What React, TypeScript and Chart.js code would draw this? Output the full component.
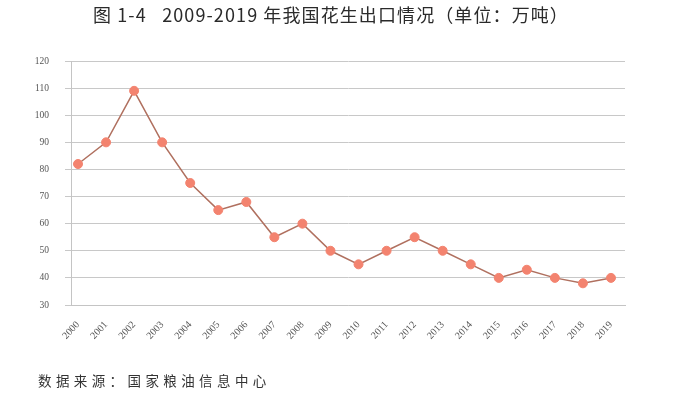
import React, { useEffect, useRef } from "react";
import { Chart, registerables } from "chart.js";

Chart.register(...registerables);

const years = ["2000","2001","2002","2003","2004","2005","2006","2007","2008","2009","2010","2011","2012","2013","2014","2015","2016","2017","2018","2019"];
const exportsWanTon = [82, 90, 109, 90, 75, 65, 68, 55, 60, 50, 45, 50, 55, 50, 45, 40, 43, 40, 38, 40];
const yMin = 30;
const yMax = 120;
const yStep = 10;

const titleText = "图 1-4\u00a0\u00a0 2009-2019 年我国花生出口情况（单位：万吨）";
const sourceText = "数据来源：国家粮油信息中心";

export default function App() {
  const ref = useRef<HTMLCanvasElement | null>(null);

  useEffect(() => {
    document.body.style.margin = "0";
    const canvas = ref.current;
    if (!canvas) return;
    const chart = new Chart(canvas, {
      type: "line",
      data: {
        datasets: [
          {
            data: exportsWanTon.map((v, i) => ({ x: i, y: v })),
            borderColor: "#b0705f",
            borderWidth: 1.5,
            pointBackgroundColor: "#f3836f",
            pointBorderColor: "#f3836f",
            pointRadius: 4.5,
            pointBorderWidth: 1,
            tension: 0,
          },
        ],
      },
      options: {
        animation: false,
        responsive: false,
        maintainAspectRatio: false,
        layout: { padding: { left: 0, right: 67, top: 61, bottom: 33 } },
        plugins: {
          legend: { display: false },
          tooltip: { enabled: false },
          title: { display: false },
        },
        scales: {
          x: {
            type: "linear",
            min: -0.25,
            max: 19.5,
            afterFit: (s: any) => {
              s.height = 60;
            },
            afterBuildTicks: (s: any) => {
              s.ticks = years.map((_, i) => ({ value: i }));
            },
            ticks: {
              autoSkip: false,
              minRotation: 47,
              maxRotation: 47,
              padding: 14,
              color: "#555",
              font: { family: "Liberation Serif", size: 10 },
              callback: (v: any) => years[Math.round(Number(v))] ?? "",
            },
            grid: { display: false, drawTicks: false },
            border: { display: true, color: "#c4c4c4", width: 1 },
          },
          y: {
            min: yMin,
            max: yMax,
            afterFit: (s: any) => {
              s.width = 71;
            },
            ticks: {
              stepSize: yStep,
              padding: 16,
              color: "#555",
              font: { family: "Liberation Serif", size: 9.5 },
            },
            grid: {
              color: "#c8c8c8",
              lineWidth: 1,
              tickLength: 6,
              tickColor: "#c8c8c8",
            },
            border: { display: true, color: "#c4c4c4", width: 1 },
          },
        },
      },
    });
    return () => chart.destroy();
  }, []);

  return (
    <div style={{ position: "relative", width: 692, height: 398, background: "#fff", overflow: "hidden" }}>
      <canvas ref={ref} width={692} height={398} style={{ position: "absolute", left: 0, top: 0 }} />
      <div
        style={{
          position: "absolute",
          left: 93,
          top: 2,
          fontFamily: "'Noto Sans CJK SC', 'Noto Sans', sans-serif",
          fontSize: 18,
          letterSpacing: 1.1,
          color: "#2a2a2a",
          whiteSpace: "pre",
          lineHeight: "24px",
        }}
      >
        {titleText}
      </div>
      <div
        style={{
          position: "absolute",
          left: 38,
          top: 370,
          fontFamily: "'Noto Sans CJK SC', serif",
          fontSize: 13.5,
          letterSpacing: 4.4,
          color: "#333",
          whiteSpace: "pre",
          lineHeight: "20px",
        }}
      >
        {sourceText}
      </div>
    </div>
  );
}
